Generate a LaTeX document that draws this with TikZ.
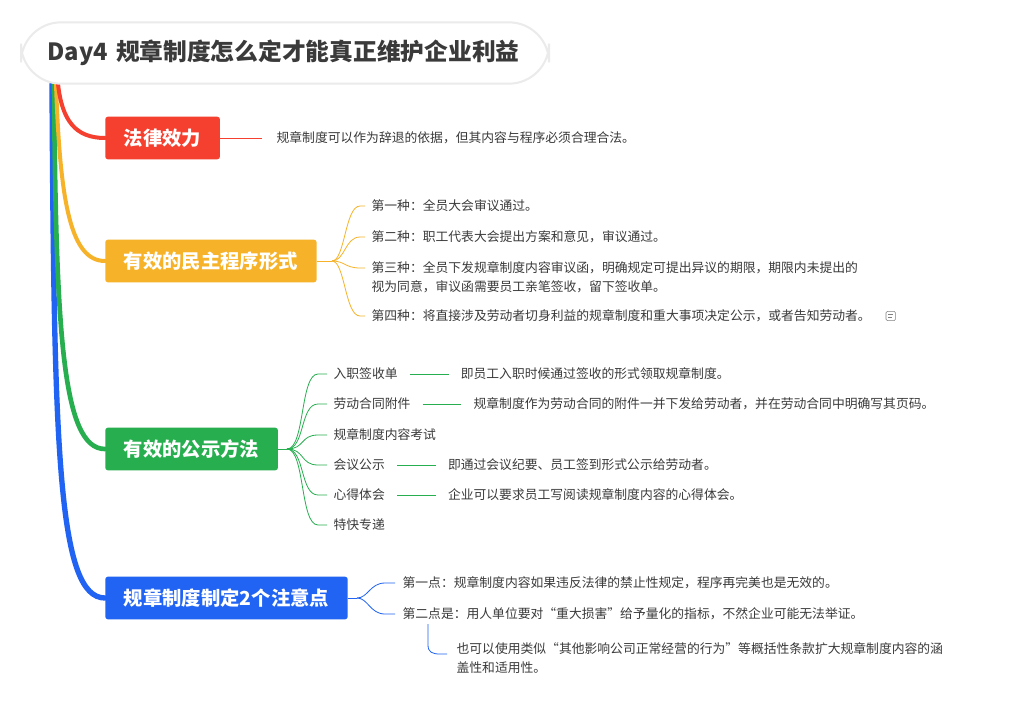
\documentclass[tikz,border=0pt]{standalone}
\usepackage{fontspec}
\setmainfont{Noto Sans CJK SC}
\usetikzlibrary{positioning}
\definecolor{cred}{HTML}{F53F2F}
\definecolor{cyel}{HTML}{F6B32A}
\definecolor{cgrn}{HTML}{27AE4F}
\definecolor{cblu}{HTML}{2163F2}
\definecolor{ctxt}{HTML}{3A3A3A}
\tikzset{
  topicbox/.style={fill=#1, text=white, rounded corners=2pt, font=\fontsize{14.5}{17}\selectfont\bfseries,
    minimum height=32pt, inner xsep=14pt, anchor=west},
  leaf/.style={text=ctxt, font=\fontsize{9.6}{14}\selectfont, anchor=west, inner sep=1pt, align=left},
  spine/.style={line width=#1, line cap=round},
  twig/.style={draw=#1, line width=0.6pt}
}
\begin{document}
\begin{tikzpicture}[x=0.75pt,y=-0.75pt]
\useasboundingbox[fill=white] (0,0) rectangle (1036,707);

% Main spines
\draw[spine=4pt,cblu] (52,84) .. controls (54,450) and (58,598) .. (105,598);
\draw[spine=3.5pt,cgrn] (54,84) .. controls (56,330) and (62,449) .. (105,449);
\draw[spine=3pt,cyel] (56,84) .. controls (60,200) and (70,261) .. (105,261);
\draw[spine=3pt,cred] (58,84) .. controls (62,120) and (75,138) .. (105,138);

% Title
\node[draw=black!8, line width=1.5pt, fill=white, rounded corners=30pt, minimum height=46pt,
  text width=356pt, inner xsep=20pt, text=ctxt, font=\fontsize{17.8}{21}\selectfont\bfseries,
  anchor=west] (title) at (20,53) {Day4 规章制度怎么定才能真正维护企业利益};

% Topics
\node[topicbox=cred] (law) at (105,138) {法律效力};
\node[topicbox=cyel] (demo) at (105,261) {有效的民主程序形式};
\node[topicbox=cgrn] (pub) at (105,449) {有效的公示方法};
\node[topicbox=cblu] (note) at (105,598) {规章制度制定2个注意点};

% Law leaf
\coordinate (lawend) at (262,138);
\node[leaf] (law1) at (275,138) {规章制度可以作为辞退的依据，但其内容与程序必须合理合法。};
\draw[twig=cred] (law.east) -- (lawend);

% Democratic procedure
\coordinate (demofork) at (332,261);
\node[leaf] (demo1) at (370,206) {第一种：全员大会审议通过。};
\node[leaf] (demo2) at (370,237) {第二种：职工代表大会提出方案和意见，审议通过。};
\node[leaf, text width=380pt] (demo3) at (370,277) {第三种：全员下发规章制度内容审议函，明确规定可提出异议的期限，期限内未提出的\\视为同意，审议函需要员工亲笔签收，留下签收单。};
\node[leaf] (demo4) at (370,316) {第四种：将直接涉及劳动者切身利益的规章制度和重大事项决定公示，或者告知劳动者。};
\node[draw=gray, rounded corners=1pt, minimum size=7pt, inner sep=0pt, right=10pt of demo4] (memo) {};
\draw[gray, line width=0.4pt] ([xshift=-2pt,yshift=1pt]memo.center) -- ([xshift=2pt,yshift=1pt]memo.center)
  ([xshift=-2pt,yshift=-1pt]memo.center) -- ([xshift=1pt,yshift=-1pt]memo.center);
\draw[twig=cyel] (demo.east) -- (demofork);
\foreach \n/\y in {demo1/206,demo2/237,demo3/268,demo4/316}
  \draw[twig=cyel] (demofork) .. controls (345,261) and (345,\y) .. (360,\y) -- (365,\y);

% Publication methods
\coordinate (pubfork) at (287,449);
\node[leaf] (pub1) at (332,374) {入职签收单};
\node[leaf] (pub2) at (332,404) {劳动合同附件};
\node[leaf] (pub3) at (332,435) {规章制度内容考试};
\node[leaf] (pub4) at (332,465) {会议公示};
\node[leaf] (pub5) at (332,495) {心得体会};
\node[leaf] (pub6) at (332,525) {特快专递};
\draw[twig=cgrn] (pub.east) -- (pubfork);
\foreach \y in {374,404,435,465,495,525}
  \draw[twig=cgrn] (pubfork) .. controls (305,449) and (300,\y) .. (318,\y) -- (327,\y);
\node[leaf, right=45pt of pub1.east, anchor=west] (pub1a) {即员工入职时候通过签收的形式领取规章制度。};
\node[leaf, right=45pt of pub2.east, anchor=west] (pub2a) {规章制度作为劳动合同的附件一并下发给劳动者，并在劳动合同中明确写其页码。};
\node[leaf, right=45pt of pub4.east, anchor=west] (pub4a) {即通过会议纪要、员工签到形式公示给劳动者。};
\node[leaf, right=45pt of pub5.east, anchor=west] (pub5a) {企业可以要求员工写阅读规章制度内容的心得体会。};
\foreach \a in {1,2,4,5}
  \draw[twig=cgrn] ([xshift=8pt]pub\a.east) -- ([xshift=-8pt]pub\a a.west);

% Notes
\coordinate (notefork) at (357,598);
\node[leaf] (note1) at (401,583) {第一点：规章制度内容如果违反法律的禁止性规定，程序再完美也是无效的。};
\node[leaf] (note2) at (401,614) {第二点是：用人单位要对“重大损害”给予量化的指标，不然企业可能无法举证。};
\node[leaf, text width=382pt] (note2a) at (455,658) {也可以使用类似“其他影响公司正常经营的行为”等概括性条款扩大规章制度内容的涵\\盖性和适用性。};
\draw[twig=cblu] (note.east) -- (notefork);
\foreach \y in {583,614}
  \draw[twig=cblu] (notefork) .. controls (368,598) and (370,\y) .. (385,\y) -- (395,\y);
\draw[twig=cblu] (428,624) -- (428,645) .. controls (428,652) and (432,654) .. (440,654) -- (447,654);
\end{tikzpicture}
\end{document}
